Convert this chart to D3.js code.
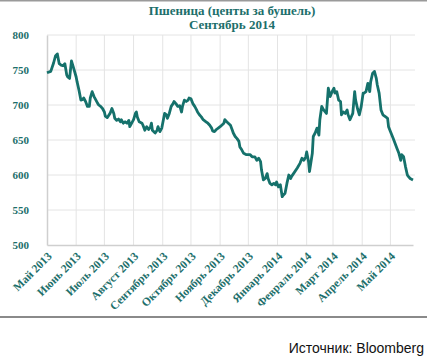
<!DOCTYPE html>
<html>
<head>
<meta charset="utf-8">
<script src="https://cdn.jsdelivr.net/npm/d3@7"></script>
<style>
body { margin: 0; background: #fff; }
svg { display: block; }
.tick text { font-family: "Liberation Serif", serif; font-weight: bold; fill: #1d6f6b; }
</style>
</head>
<body>
<svg id="chart" width="427" height="362"></svg>
<script>
// days counted from 1 May 2013, price in cents per bushel
var dayOffsets = [0, 4, 7, 9, 11, 13, 15, 17, 19, 21, 22, 24, 26, 28, 31, 32, 34, 36, 38, 39,
    41, 43, 45, 46, 48, 50, 52, 54, 55, 57, 59, 61, 62, 64, 65, 67, 69, 71, 72, 74,
    76, 78, 79, 81, 83, 85, 87, 88, 90, 92, 94, 95, 96, 98, 101, 102, 104, 106, 108, 110,
    111, 112, 115, 117, 118, 120, 122, 125, 127, 128, 130, 132, 134, 135, 137, 139, 141, 143, 144, 146,
    148, 150, 151, 153, 155, 157, 159, 160, 162, 164, 166, 167, 169, 171, 173, 175, 176, 178, 180, 182,
    184, 188, 189, 191, 195, 197, 198, 200, 202, 204, 205, 207, 209, 212, 216, 218, 221, 223, 225, 227,
    228, 230, 232, 234, 235, 237, 239, 241, 243, 244, 246, 248, 250, 251, 253, 255, 257, 259, 260, 262,
    266, 269, 271, 273, 275, 276, 278, 279, 282, 283, 285, 287, 289, 290, 292, 294, 297, 299, 301, 303,
    305, 306, 308, 310, 312, 313, 315, 317, 319, 320, 322, 325, 327, 328, 330, 332, 334, 336, 337, 339,
    341, 343, 344, 346, 348, 350, 351, 353, 355, 357, 360, 362, 363, 365, 368, 372, 374, 376, 377, 379,
    381, 383, 384, 386, 389];
var prices = [746, 748, 760, 770, 773, 759, 757, 756, 759, 743, 740, 738, 763, 754, 740, 733, 721, 707, 708, 710,
    705, 698, 698, 710, 719, 712, 707, 702, 700, 698, 695, 690, 684, 682, 684, 688, 695, 688, 681, 678,
    680, 676, 679, 674, 676, 674, 678, 669, 674, 679, 688, 690, 683, 676, 674, 671, 664, 669, 665, 669,
    674, 664, 660, 664, 669, 662, 667, 688, 686, 681, 688, 698, 702, 705, 702, 698, 699, 690, 698, 707,
    705, 707, 710, 709, 702, 698, 693, 690, 686, 683, 679, 678, 676, 674, 671, 667, 663, 662, 665, 667,
    669, 674, 679, 676, 671, 664, 660, 655, 652, 648, 640, 636, 631, 629, 629, 626, 626, 621, 624, 619,
    607, 593, 595, 602, 595, 588, 586, 588, 586, 590, 583, 586, 569, 571, 574, 588, 600, 595, 598, 602,
    610, 617, 624, 621, 626, 633, 619, 605, 631, 655, 660, 667, 657, 679, 698, 693, 688, 724, 712, 719,
    724, 717, 719, 707, 705, 686, 690, 688, 693, 686, 679, 688, 719, 707, 695, 686, 698, 717, 717, 719,
    731, 719, 733, 745, 748, 738, 729, 717, 693, 686, 683, 681, 669, 662, 652, 638, 631, 621, 629, 626,
    612, 600, 598, 595, 593];
var monthNames = ["Май 2013", "Июнь 2013", "Июль 2013", "Август 2013", "Сентябрь 2013", "Октябрь 2013",
    "Ноябрь 2013", "Декабрь 2013", "Январь 2014", "Февраль 2014", "Март 2014", "Апрель 2014", "Май 2014"];
var yTicks = [500, 550, 600, 650, 700, 750, 800];

(function draw() {
    var startDate = new Date(2013, 4, 1);
    function dayToDate(d) {
        return d3.timeDay.offset(startDate, d);
    }
    var points = dayOffsets.map(function(d, i) { return {date: dayToDate(d), value: prices[i]}; });
    var months = d3.timeMonth.range(startDate, new Date(2014, 4, 2));

    var svg = d3.select('#chart');
    var pl = 47, pr = 413, pt = 35, pb = 245;

    var x = d3.scaleTime()
        .domain([startDate, dayToDate(389)])
        .range([pl, pr]);
    var y = d3.scaleLinear()
        .domain([500, 800])
        .range([pb, pt]);

    // frame lines
    svg.append('line').attr('x1', 0).attr('x2', 427).attr('y1', 0.5).attr('y2', 0.5)
        .attr('stroke', '#9a9a9a').attr('stroke-width', 2);
    svg.append('line').attr('x1', 0).attr('x2', 427).attr('y1', 317).attr('y2', 317)
        .attr('stroke', '#8a8a8a').attr('stroke-width', 2);

    // gridlines
    svg.append('g').selectAll('line')
        .data(yTicks.slice(1))
        .enter().append('line')
        .attr('x1', pl).attr('x2', pr + 2)
        .attr('y1', function(d) { return y(d); })
        .attr('y2', function(d) { return y(d); })
        .attr('stroke', '#e4e4e4').attr('stroke-width', 1);
    svg.append('g').selectAll('line')
        .data(months.slice(1))
        .enter().append('line')
        .attr('x1', function(d) { return x(d); })
        .attr('x2', function(d) { return x(d); })
        .attr('y1', pt).attr('y2', pb)
        .attr('stroke', '#e4e4e4').attr('stroke-width', 1);

    // y axis
    var yAxis = svg.append('g')
        .attr('transform', 'translate(' + pl + ',0)')
        .call(d3.axisLeft(y).tickValues(yTicks).tickSize(0).tickPadding(18));
    yAxis.select('.domain').attr('stroke', '#cfcfcf').attr('stroke-width', 1.5);
    yAxis.selectAll('text').style('font-size', '11px');

    // x axis
    var xAxis = svg.append('g')
        .attr('transform', 'translate(0,' + pb + ')')
        .call(d3.axisBottom(x).tickValues(months).tickSize(0)
            .tickFormat(function(d, i) { return monthNames[i]; }));
    xAxis.select('.domain').attr('stroke', '#cfcfcf').attr('stroke-width', 1.5);
    xAxis.selectAll('text')
        .style('font-size', '11.5px')
        .attr('text-anchor', 'end')
        .attr('dy', null)
        .attr('y', 0)
        .attr('transform', 'translate(5,12) rotate(-45)');

    // price line
    svg.append('path')
        .datum(points)
        .attr('fill', 'none')
        .attr('stroke', '#15716b')
        .attr('stroke-width', 2.8)
        .attr('stroke-linejoin', 'round')
        .attr('d', d3.line()
            .x(function(d) { return x(d.date); })
            .y(function(d) { return y(d.value); }));

    // title
    var title = svg.append('text')
        .attr('text-anchor', 'middle')
        .attr('font-family', '"Liberation Serif", serif')
        .attr('font-weight', 'bold').attr('font-size', '13px')
        .attr('fill', '#1d6f6b');
    title.append('tspan').attr('x', 232).attr('y', 15).text('Пшеница (центы за бушель)');
    title.append('tspan').attr('x', 232).attr('y', 29).text('Сентябрь 2014');

    svg.append('text')
        .attr('x', 424).attr('y', 353)
        .attr('text-anchor', 'end')
        .attr('font-family', '"Liberation Sans", Arial, sans-serif')
        .attr('font-size', '14px')
        .attr('fill', '#111')
        .text('Источник: Bloomberg');
})();
</script>
</body>
</html>
